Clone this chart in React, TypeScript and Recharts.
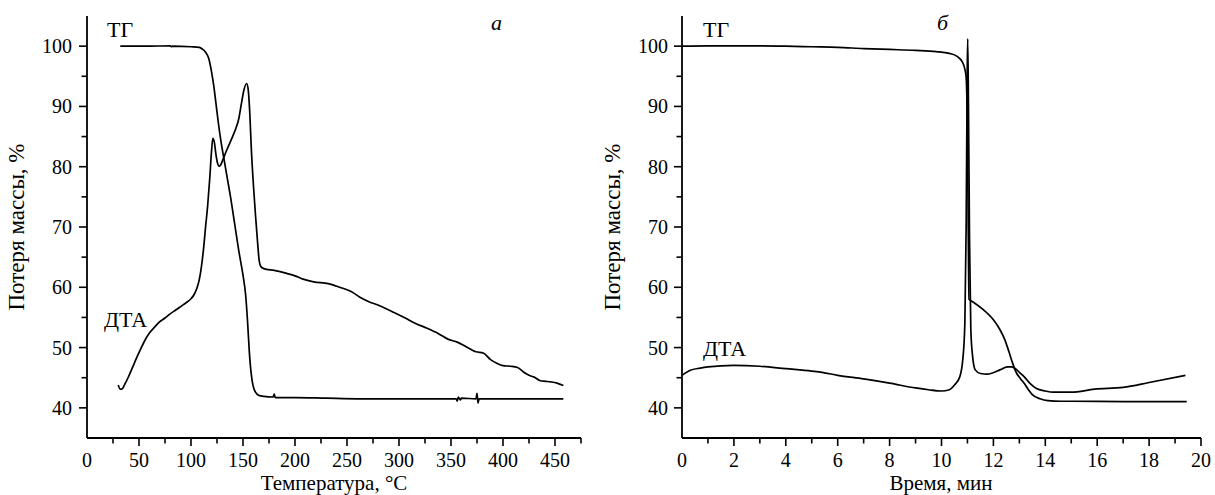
import React from "react";
import { LineChart, Line, XAxis, YAxis } from "recharts";

const FONT = "'Liberation Serif', 'DejaVu Serif', 'Times New Roman', Times, serif";

// ---- Panel а: temperature (°C) vs mass loss (%) ----
const leftTG: [number, number][] = [
  [32, 100], [60, 100], [80, 100.05], [81, 99.9], [82, 100], [100, 99.9], [108, 99.8],
  [111, 99.5], [114, 99], [117, 98], [120, 95.5], [122, 93.3], [124, 90.5], [126.5, 87],
  [129, 84], [131.5, 81.5], [135, 78], [138, 75], [142, 70.5], [146, 66], [150, 62],
  [152.5, 58.8], [154.5, 54], [156, 49.5], [158, 45.5], [159.5, 43.8], [162, 42.6],
  [165, 42.1], [170, 41.9], [179, 41.8], [180, 42.3], [181, 41.7], [200, 41.7],
  [230, 41.6], [260, 41.5], [300, 41.5], [355, 41.5], [356, 41.1], [357, 41.8],
  [359, 41.3], [360, 41.6], [374, 41.5], [375, 42.4], [376, 40.8], [377, 41.5],
  [420, 41.5], [440, 41.5], [458, 41.5],
];

const leftDTA: [number, number][] = [
  [30, 43.8], [32, 43.1], [33.5, 43.1], [36, 43.8], [40, 45.2], [44, 46.8], [48, 48.4],
  [52, 49.9], [56, 51.3], [60, 52.4], [65, 53.4], [70, 54.3], [75, 54.9], [80, 55.6],
  [85, 56.2], [90, 56.8], [95, 57.4], [100, 58.1], [103, 58.8], [106, 60], [108, 61.3],
  [110, 63.4], [112, 66.3], [114, 70], [116, 73.5], [118, 78], [119.5, 82], [121, 84.7],
  [122.5, 84], [124, 82], [125.5, 80.6], [127, 80.1], [128.5, 80.3], [131, 81.3],
  [134, 82.6], [137, 83.8], [140, 85], [143, 86.3], [146, 88], [148.5, 90.5],
  [151, 92.8], [153.5, 93.8], [155, 92.8], [156.5, 89], [158, 83], [160, 77], [162, 72],
  [164, 67.5], [165.5, 64.5], [167, 63.5], [170, 63.1], [180, 62.8], [192, 62.3],
  [200, 61.9], [207, 61.4], [218, 60.9], [232, 60.6], [243, 60], [254, 59.3],
  [262, 58.4], [270, 57.7], [282, 56.9], [294, 55.9], [305, 55], [316, 54], [327, 53.2],
  [338, 52.3], [347, 51.4], [356, 50.9], [365, 50.1], [374, 49.3], [381, 49.1],
  [388, 48], [394, 47.4], [400, 47], [407, 46.9], [414, 46.7], [420, 45.9], [425, 45.4],
  [430, 45.1], [436, 44.5], [441, 44.4], [446, 44.3], [452, 44.1], [458, 43.7],
];

// ---- Panel б: time (min) vs mass loss (%) ----
const rightTG: [number, number][] = [
  [0, 100], [1, 100.05], [2, 100.05], [3, 100.05], [4, 100], [5, 99.9], [6, 99.8],
  [7, 99.6], [8, 99.45], [9, 99.3], [9.8, 99.1], [10.3, 98.8], [10.6, 98.3],
  [10.8, 97.4], [10.9, 96.2], [10.95, 94.8], [11.0, 85], [11.03, 70], [11.06, 58],
  [11.2, 57.6], [11.55, 56.5], [12.0, 54.6], [12.25, 53], [12.45, 51.2], [12.6, 49.3],
  [12.75, 47.3], [12.9, 45.7], [13.05, 44.8], [13.2, 44.0], [13.35, 43.0], [13.5, 42.2],
  [13.8, 41.5], [14.1, 41.2], [14.6, 41.1], [15, 41.1], [17, 41.05], [19.45, 41.05],
];

const rightDTA: [number, number][] = [
  [0, 45.4], [0.3, 46.2], [0.7, 46.6], [1, 46.8], [2, 47.05], [3, 46.9], [4, 46.5],
  [5, 46.1], [5.4, 45.9], [6, 45.4], [7, 44.8], [8, 44.1], [9, 43.3], [9.5, 43],
  [10, 42.8], [10.3, 43], [10.5, 43.8], [10.7, 45.1], [10.82, 48], [10.9, 54],
  [10.95, 70], [10.99, 95], [11.01, 101.2], [11.04, 90], [11.08, 68], [11.13, 53],
  [11.2, 48.5], [11.3, 46.3], [11.5, 45.7], [11.77, 45.6], [12.15, 46.1], [12.35, 46.5],
  [12.55, 46.8], [12.7, 46.8], [12.85, 46.5], [13.0, 45.9], [13.2, 45.1], [13.4, 44.1],
  [13.66, 43.2], [14.0, 42.8], [14.3, 42.6], [15, 42.6], [15.9, 43.1], [17, 43.4],
  [18, 44.2], [19.4, 45.4],
];

const leftXTicks = [0, 25, 50, 75, 100, 125, 150, 175, 200, 225, 250, 275, 300, 325, 350, 375, 400, 425, 450, 475];
const rightXTicks = [0, 1, 2, 3, 4, 5, 6, 7, 8, 9, 10, 11, 12, 13, 14, 15, 16, 17, 18, 19, 20];
const yTicks = [40, 45, 50, 55, 60, 65, 70, 75, 80, 85, 90, 95, 100];

const toPts = (arr: [number, number][]) => arr.map(([t, v]) => ({ t, v }));

const tickStyle: React.CSSProperties = { fontFamily: FONT, fontSize: 20, fill: "#000" };
const labelStyle: React.CSSProperties = { fontFamily: FONT, fontSize: 22, fill: "#000" };
const titleStyle: React.CSSProperties = { fontFamily: FONT, fontSize: 21, fill: "#000" };
const yTitleStyle: React.CSSProperties = { fontFamily: FONT, fontSize: 23, fill: "#000" };

const makeXTick = (majorStep: number) => (props: any) => {
  const { x, y, payload } = props;
  const v = payload.value;
  const major = Math.abs(v % majorStep) < 1e-9;
  return (
    <g>
      {v !== 0 && (
        <line x1={x} y1={y} x2={x} y2={y + (major ? 8 : 5.5)} stroke="#000" strokeWidth={1.6} />
      )}
      {major && (
        <text x={x} y={y + 29} textAnchor="middle" style={tickStyle}>
          {v}
        </text>
      )}
    </g>
  );
};

const makeYTick = (gap: number) => (props: any) => {
  const { x, y, payload } = props;
  const v = payload.value;
  const major = v % 10 === 0;
  return (
    <g>
      <line x1={x} y1={y} x2={x - (major ? 8 : 5.5)} y2={y} stroke="#000" strokeWidth={1.6} />
      {major && (
        <text x={x - gap} y={y + 7} textAnchor="end" style={tickStyle}>
          {v}
        </text>
      )}
    </g>
  );
};

const axisLine = { stroke: "#000", strokeWidth: 1.8 };

export default function App() {
  return (
    <div style={{ position: "absolute", left: 0, top: 0, width: 1215, height: 495, background: "#fff" }}>
      <div style={{ position: "absolute", left: 0, top: 0 }}>
        <LineChart width={600} height={495} margin={{ top: 16, right: 19, bottom: 0, left: 0 }}>
          <XAxis
            dataKey="t"
            type="number"
            domain={[0, 475]}
            ticks={leftXTicks}
            interval={0}
            tickSize={0}
            tickMargin={0}
            tickLine={false}
            axisLine={axisLine}
            tick={makeXTick(50)}
            height={57}
            allowDataOverflow
          />
          <YAxis
            type="number"
            domain={[35, 105]}
            ticks={yTicks}
            interval={0}
            tickSize={0}
            tickMargin={0}
            tickLine={false}
            axisLine={axisLine}
            tick={makeYTick(15)}
            width={87}
            allowDataOverflow
          />
          <Line data={toPts(leftTG)} dataKey="v" type="monotone" stroke="#000" strokeWidth={1.7} dot={false} isAnimationActive={false} />
          <Line data={toPts(leftDTA)} dataKey="v" type="monotone" stroke="#000" strokeWidth={1.7} dot={false} isAnimationActive={false} />
        </LineChart>
      </div>
      <div style={{ position: "absolute", left: 600, top: 0 }}>
        <LineChart width={615} height={495} margin={{ top: 16, right: 14, bottom: 0, left: 0 }}>
          <XAxis
            dataKey="t"
            type="number"
            domain={[0, 20]}
            ticks={rightXTicks}
            interval={0}
            tickSize={0}
            tickMargin={0}
            tickLine={false}
            axisLine={axisLine}
            tick={makeXTick(2)}
            height={57}
            allowDataOverflow
          />
          <YAxis
            type="number"
            domain={[35, 105]}
            ticks={yTicks}
            interval={0}
            tickSize={0}
            tickMargin={0}
            tickLine={false}
            axisLine={axisLine}
            tick={makeYTick(14)}
            width={82}
            allowDataOverflow
          />
          <Line data={toPts(rightTG)} dataKey="v" type="monotone" stroke="#000" strokeWidth={1.7} dot={false} isAnimationActive={false} />
          <Line data={toPts(rightDTA)} dataKey="v" type="monotone" stroke="#000" strokeWidth={1.7} dot={false} isAnimationActive={false} />
        </LineChart>
      </div>
      <svg
        width={1215}
        height={495}
        style={{ position: "absolute", left: 0, top: 0, pointerEvents: "none" }}
      >
        <text x={107} y={37} style={labelStyle}>ТГ</text>
        <text x={104} y={327} style={labelStyle}>ДТА</text>
        <text x={491} y={30} style={{ ...labelStyle, fontStyle: "italic" }}>а</text>
        <text x={703} y={37} style={labelStyle}>ТГ</text>
        <text x={703} y={356} style={labelStyle}>ДТА</text>
        <text x={937} y={30} style={{ ...labelStyle, fontStyle: "italic" }}>б</text>
        <text x={334} y={490} textAnchor="middle" style={titleStyle}>Температура, °C</text>
        <text x={941} y={490} textAnchor="middle" style={titleStyle}>Время, мин</text>
        <text transform="translate(24 227) rotate(-90)" textAnchor="middle" style={yTitleStyle}>Потеря массы, %</text>
        <text transform="translate(620 227) rotate(-90)" textAnchor="middle" style={yTitleStyle}>Потеря массы, %</text>
      </svg>
    </div>
  );
}
